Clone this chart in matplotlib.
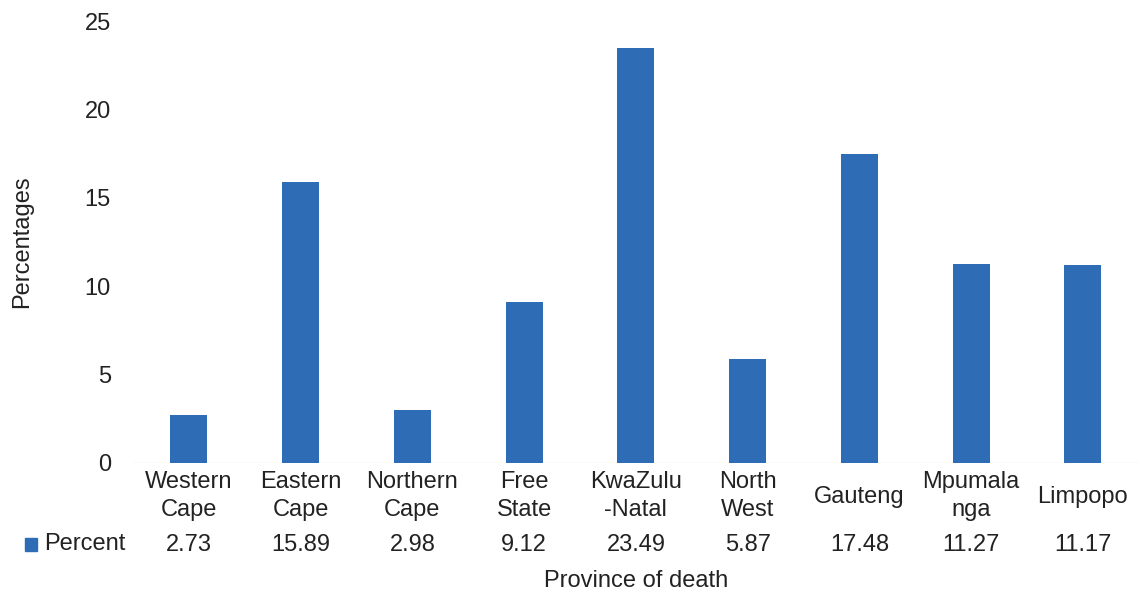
import matplotlib
matplotlib.use("Agg")
import matplotlib.pyplot as plt

plt.rcParams["font.family"] = ["Liberation Sans", "DejaVu Sans"]

provinces = ["Western\nCape", "Eastern\nCape", "Northern\nCape", "Free\nState",
             "KwaZulu\n-Natal", "North\nWest", "Gauteng", "Mpumala\nnga", "Limpopo"]
percent = [2.73, 15.89, 2.98, 9.12, 23.49, 5.87, 17.48, 11.27, 11.17]
y_ticks = [0, 5, 10, 15, 20, 25]

bar_color = "#2e6cb5"
text_color = "#222222"
fs = 17

fig = plt.figure(figsize=(11.41, 5.92), dpi=100)
ax = fig.add_axes([0.1166, 0.218, 0.8814, 0.7465])

x = list(range(len(provinces)))
ax.bar(x, percent, width=0.33, color=bar_color, zorder=2)
ax.set_xlim(-0.5, len(provinces) - 0.5)
ax.set_ylim(0, 25)
ax.set_yticks(y_ticks)
ax.set_yticklabels([str(t) for t in y_ticks], fontsize=fs, color=text_color)
ax.tick_params(axis="y", length=0, pad=16)
ax.set_xticks([])
for s in ax.spines.values():
    s.set_visible(False)
ax.axhline(0, color="#ece8ec", lw=1, zorder=1)

fig.text(22 / 1141, 1 - 242 / 592, "Percentages", rotation=90, ha="center",
         va="center", fontsize=fs, color=text_color)

# category labels and the data table row under the axis
trans = ax.get_xaxis_transform()
for xi, name, val in zip(x, provinces, percent):
    if "\n" in name:
        ax.text(xi, -0.019, name, transform=trans, ha="center", va="top",
                fontsize=fs, color=text_color, linespacing=1.35)
    else:
        ax.text(xi, -0.077, name, transform=trans, ha="center", va="center",
                fontsize=fs, color=text_color)
    ax.text(xi, -0.186, f"{val:.2f}", transform=trans, ha="center", va="center",
            fontsize=fs, color=text_color)

# legend key for the table row
fig.patches.append(plt.Rectangle((25 / 1141, 1 - 551 / 592), 12 / 1141, 13 / 592,
                                 transform=fig.transFigure, color=bar_color))
fig.text(44 / 1141, 1 - 544 / 592, "Percent", ha="left", va="center",
         fontsize=fs, color=text_color)

fig.text(636 / 1141, 1 - 581 / 592, "Province of death", ha="center", va="center",
         fontsize=fs, color=text_color)

fig.savefig("out.png", dpi=100)
